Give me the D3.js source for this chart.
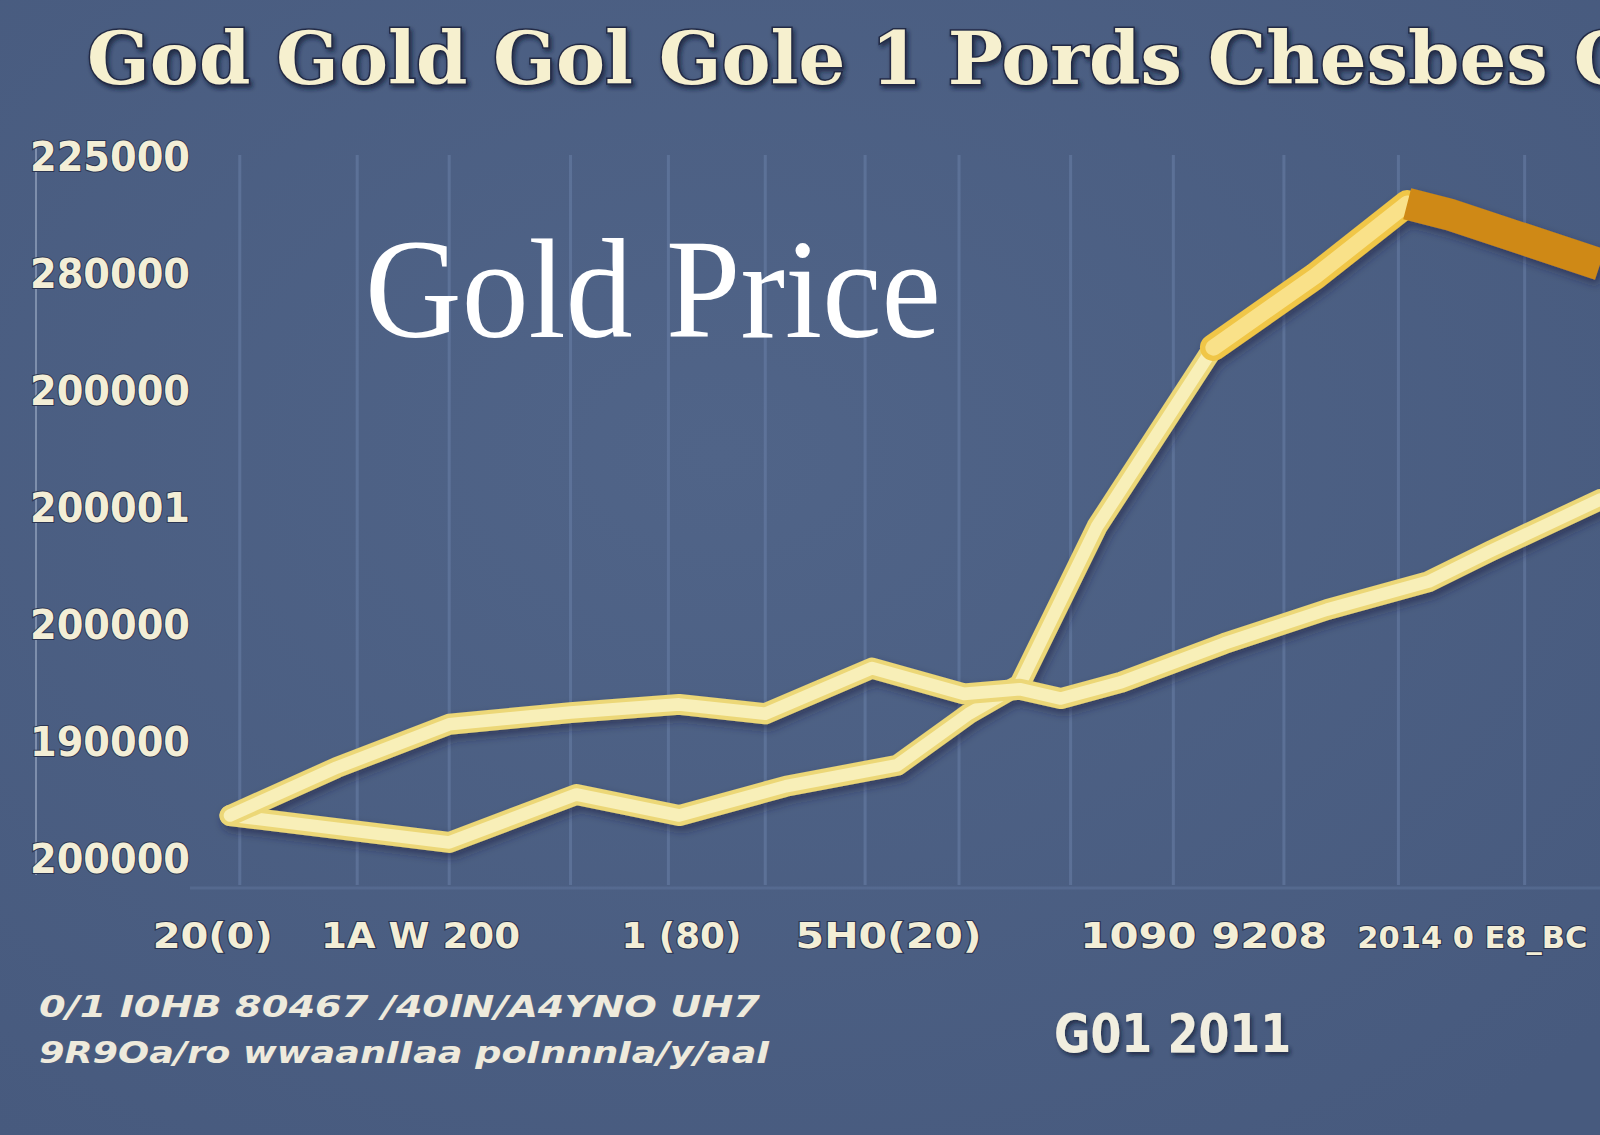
<html>
<head>
    <title>Gold price</title>
    <style>
        body { margin: 0; background: #4b5f84; }
        .grid { stroke: #6a80a8; stroke-width: 3px; opacity: 0.55; }
        .ylab text { font-family: "DejaVu Sans"; font-weight: bold; font-size: 40px; fill: #f3eed6;
                     stroke: #2b3552; stroke-width: 2px; paint-order: stroke; }
        .xlab { font-family: "DejaVu Sans Condensed", "DejaVu Sans"; font-weight: bold; font-size: 36px; fill: #f3eed6;
                stroke: #2b3552; stroke-width: 2px; paint-order: stroke; }
        .note { font-family: "DejaVu Sans Condensed", "DejaVu Sans"; font-weight: bold; font-style: italic; font-size: 30px; fill: #eeeadc; }
    </style>
</head>
<body>
<svg id="container" width="1600" height="1135"></svg>
<script src="https://cdn.jsdelivr.net/npm/d3@7"></script>
<script>
    // years along the x axis, prices on the y axis
    let yTicks = [1600, 1500, 1400, 1300, 1200, 1100, 1000]
    let yTickLabels = ["225000", "280000", "200000", "200001", "200000", "190000", "200000"]

    let gridYears = [2000.1, 2001.3, 2002.24, 2003.48, 2004.48, 2005.47, 2006.49, 2007.45, 2008.59, 2009.64, 2010.77, 2011.94, 2013.23]

    let xLabelYears = [1999.21, 2000.93, 2004.0, 2005.78, 2008.69, 2011.52]
    let xLabels = ["20(0)", "1A W 200", "1 (80)", "5H0(20)", "1090 9208", "2014 0 E8_BC"]
    let xLabelWidths = [120, 199, 120, 186, 247, 230]
    let xLabelSizes = [36, 36, 36, 36, 36, 31]

    // first series (slow climb)
    let yearsA = [2000.0, 2001.09, 2002.24, 2003.48, 2004.59, 2005.47, 2006.56, 2007.5, 2008.07, 2008.49, 2009.11, 2010.16, 2011.21, 2012.25, 2012.88, 2014.0]
    let pricesA = [1038, 1079, 1116, 1126, 1133, 1125, 1164, 1142, 1146, 1138, 1152, 1185, 1214, 1238, 1264, 1308]

    // second series (dip, then sharp rise)
    let yearsB = [2000.0, 2002.24, 2003.54, 2004.59, 2005.68, 2006.82, 2007.55, 2008.07, 2008.86, 2010.05, 2011.09, 2012.03, 2012.45, 2014.0]
    let pricesB = [1038, 1015, 1056, 1038, 1063, 1081, 1125, 1150, 1285, 1438, 1499, 1561, 1552, 1509]

    let svg = d3.select("#container")

    let defs = svg.append("defs")
    let bg = defs.append("radialGradient").attr("id", "bg").attr("cx", "45%").attr("cy", "40%").attr("r", "75%")
    bg.append("stop").attr("offset", "0%").attr("stop-color", "#506488")
    bg.append("stop").attr("offset", "100%").attr("stop-color", "#475a7e")

    let shadow = defs.append("filter").attr("id", "shadow")
        .attr("x", "-10%").attr("y", "-10%").attr("width", "120%").attr("height", "130%")
    shadow.append("feDropShadow").attr("dx", 3).attr("dy", 5).attr("stdDeviation", 4)
        .attr("flood-color", "#1a2240").attr("flood-opacity", 0.55)

    let txtShadow = defs.append("filter").attr("id", "tshadow")
    txtShadow.append("feDropShadow").attr("dx", 2).attr("dy", 3).attr("stdDeviation", 2)
        .attr("flood-color", "#141a30").attr("flood-opacity", 0.7)

    svg.append("rect").attr("width", 1600).attr("height", 1135).attr("fill", "url(#bg)")

    let xScale = d3.scaleLinear().domain([2000, 2014]).range([230, 1600])
    let yScale = d3.scaleLinear().domain([1000, 1600]).range([860, 158])

    // grid lines
    svg.append("g").selectAll("line")
        .data(gridYears)
        .join("line")
        .attr("class", "grid")
        .attr("x1", d => xScale(d)).attr("x2", d => xScale(d))
        .attr("y1", 155).attr("y2", 885)

    svg.append("line").attr("class", "grid")
        .attr("x1", 190).attr("x2", 1600).attr("y1", 888).attr("y2", 888)
        .style("opacity", 0.35)

    svg.append("line").attr("class", "grid")
        .attr("x1", 36).attr("x2", 36).attr("y1", 140).attr("y2", 875)
        .style("stroke", "#a9b7d0").style("stroke-width", "2px")

    // y axis
    let yAxis = svg.append("g")
        .attr("class", "ylab")
        .attr("transform", "translate(190,0)")
        .call(d3.axisLeft(yScale)
            .tickValues(yTicks)
            .tickSize(0)
            .tickPadding(0)
            .tickFormat((d, i) => yTickLabels[i]))
    yAxis.select(".domain").remove()
    yAxis.selectAll("text").attr("textLength", 160).attr("lengthAdjust", "spacingAndGlyphs")

    // x labels
    svg.append("g").selectAll("text")
        .data(xLabels)
        .join("text")
        .attr("class", "xlab")
        .attr("x", (d, i) => xScale(xLabelYears[i]))
        .attr("y", 948)
        .style("font-size", (d, i) => xLabelSizes[i] + "px")
        .attr("textLength", (d, i) => xLabelWidths[i])
        .attr("lengthAdjust", "spacingAndGlyphs")
        .text(d => d)

    // lines
    let line = d3.line()
        .x(d => xScale(d[0]))
        .y(d => yScale(d[1]))

    let dataA = yearsA.map((d, i) => [d, pricesA[i]])
    let dataB = yearsB.map((d, i) => [d, pricesB[i]])

    let lines = svg.append("g").attr("filter", "url(#shadow)")

    function drawLine(data, outer, inner, w) {
        lines.append("path").datum(data).attr("d", line)
            .attr("fill", "none").attr("stroke", outer).attr("stroke-width", w)
            .attr("stroke-linejoin", "round").attr("stroke-linecap", "round")
        lines.append("path").datum(data).attr("d", line)
            .attr("fill", "none").attr("stroke", inner).attr("stroke-width", w * 0.6)
            .attr("stroke-linejoin", "round").attr("stroke-linecap", "round")
    }

    drawLine(dataB.slice(0, 11), "#ecd777", "#f8efb8", 21)
    drawLine(dataB.slice(9, 12), "#f0c646", "#f9e189", 27)
    // orange ribbon at the end
    lines.append("path").datum(dataB.slice(11))
        .attr("d", line)
        .attr("fill", "none").attr("stroke", "#cf8912").attr("stroke-width", 32)
        .attr("stroke-linejoin", "round")
    drawLine(dataA, "#ecd777", "#f8efb8", 21)

    // title
    svg.append("text")
        .attr("x", 87).attr("y", 84)
        .attr("textLength", 1545).attr("lengthAdjust", "spacingAndGlyphs")
        .style("font-family", "DejaVu Serif").style("font-weight", "bold").style("font-size", "72px")
        .style("fill", "#f6f0cf").style("stroke", "#222a45").style("stroke-width", "3px")
        .style("paint-order", "stroke").attr("filter", "url(#tshadow)")
        .text("God Gold Gol Gole 1 Pords Chesbes C")

    svg.append("text")
        .attr("x", 365).attr("y", 337)
        .attr("textLength", 576).attr("lengthAdjust", "spacingAndGlyphs")
        .style("font-family", "Liberation Serif").style("font-size", "142px").style("fill", "#ffffff")
        .text("Gold Price")

    // notes at the bottom
    svg.append("text").attr("class", "note")
        .attr("x", 39).attr("y", 1017)
        .attr("textLength", 721).attr("lengthAdjust", "spacingAndGlyphs")
        .text("0/1 I0HB 80467 /40lN/A4YNO UH7")

    svg.append("text").attr("class", "note")
        .attr("x", 39).attr("y", 1063)
        .attr("textLength", 731).attr("lengthAdjust", "spacingAndGlyphs")
        .text("9R9Oa/ro wwaanIIaa poInnnIa/y/aaI")

    svg.append("text")
        .attr("x", 1054).attr("y", 1052)
        .attr("textLength", 237).attr("lengthAdjust", "spacingAndGlyphs")
        .style("font-family", "DejaVu Sans Condensed").style("font-weight", "bold").style("font-size", "54px")
        .style("fill", "#f1eedf").attr("filter", "url(#tshadow)")
        .text("G01 2011")
</script>
</body>
</html>
